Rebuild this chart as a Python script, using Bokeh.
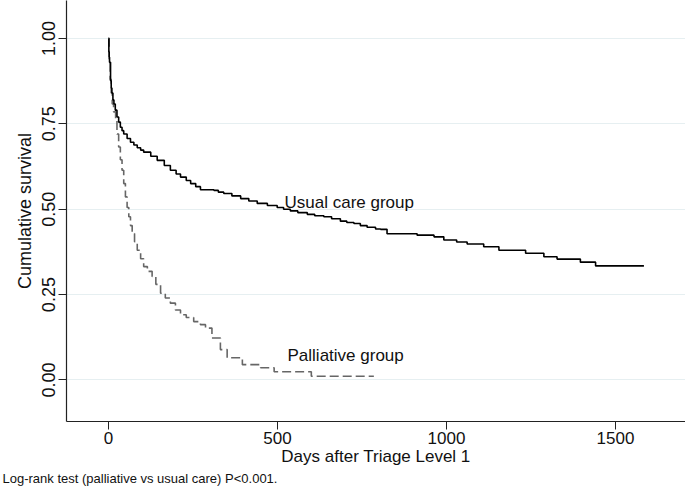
from bokeh.plotting import figure
from bokeh.models import Range1d, FixedTicker, NumeralTickFormatter, Label, Title
from bokeh.embed import file_html
from bokeh.resources import INLINE

# Usual care group (Kaplan-Meier steps)
usual_days = [0, 1, 2, 3, 6, 8, 10, 13, 16, 20, 25, 30, 35, 40, 45, 55, 65, 75, 85, 95, 104, 125,
              144, 165, 183, 200, 213, 230, 243, 258, 272, 312, 325, 341, 365, 391, 415, 440, 470,
              499, 518, 538, 560, 588, 610, 637, 660, 686, 705, 726, 745, 765, 790, 805, 824, 913,
              963, 992, 1030, 1061, 1110, 1155, 1234, 1288, 1327, 1396, 1441, 1584]
usual_surv = [1.0, 0.96, 0.945, 0.93, 0.876, 0.855, 0.84, 0.82, 0.808, 0.79, 0.77, 0.755, 0.74,
              0.73, 0.72, 0.707, 0.696, 0.688, 0.68, 0.673, 0.667, 0.655, 0.643, 0.628, 0.614,
              0.603, 0.594, 0.584, 0.575, 0.566, 0.557, 0.555, 0.55, 0.546, 0.539, 0.531, 0.524,
              0.517, 0.511, 0.505, 0.5, 0.495, 0.49, 0.485, 0.481, 0.478, 0.472, 0.465, 0.461,
              0.458, 0.452, 0.447, 0.442, 0.441, 0.428, 0.424, 0.419, 0.41, 0.404, 0.398, 0.39,
              0.38, 0.371, 0.361, 0.354, 0.345, 0.334, 0.334]

# Palliative group
pall_days = [0, 2, 5, 8, 11, 15, 21, 25, 30, 35, 40, 45, 50, 55, 60, 65, 70, 77, 85, 95, 104, 115,
             129, 140, 154, 168, 183, 198, 213, 230, 252, 272, 287, 306, 331, 351, 396, 450, 490,
             600, 785]
pall_surv = [1.0, 0.94, 0.88, 0.84, 0.808, 0.785, 0.759, 0.72, 0.682, 0.645, 0.614, 0.575, 0.536,
             0.505, 0.478, 0.452, 0.429, 0.405, 0.38, 0.355, 0.332, 0.318, 0.303, 0.28, 0.254,
             0.24, 0.225, 0.205, 0.191, 0.183, 0.171, 0.162, 0.152, 0.123, 0.089, 0.065, 0.045,
             0.036, 0.024, 0.011, 0.011]

y_ticks = [0, 0.25, 0.5, 0.75, 1.0]
x_ticks = [0, 500, 1000, 1500]

FONT = "Liberation Sans"

p = figure(width=685, height=490, output_backend="svg", toolbar_location=None,
           x_range=Range1d(-124.3, 1707), y_range=Range1d(-0.1215, 1.111),
           min_border_left=66, min_border_right=0, min_border_top=0, min_border_bottom=69)
p.outline_line_color = None
p.background_fill_color = "white"
p.border_fill_color = "white"

p.xgrid.visible = False
p.ygrid.grid_line_color = "#e6eff1"
p.ygrid.grid_line_width = 1.2
p.yaxis.ticker = FixedTicker(ticks=y_ticks)
p.xaxis.ticker = FixedTicker(ticks=x_ticks)
p.yaxis.formatter = NumeralTickFormatter(format="0.00")

for ax in (p.xaxis[0], p.yaxis[0]):
    ax.axis_line_color = "#222222"
    ax.axis_line_width = 1.2
    ax.major_tick_line_color = "#222222"
    ax.major_tick_in = 0
    ax.major_tick_out = 8
    ax.minor_tick_line_color = None
    ax.major_label_text_font = FONT
    ax.major_label_text_font_size = "17px"
    ax.major_label_text_color = "#111111"
    ax.axis_label_text_font = FONT
    ax.axis_label_text_font_size = "17px"
    ax.axis_label_text_font_style = "normal"
    ax.axis_label_text_color = "#111111"

p.yaxis.major_label_text_font_size = "18px"
p.yaxis.axis_label_text_font_size = "18px"

p.xaxis.axis_label = "Days after Triage Level 1"
p.yaxis.axis_label = "Cumulative survival"
p.yaxis.major_label_orientation = "vertical"
p.xaxis.major_label_standoff = 2
p.xaxis.axis_label_standoff = 0
p.yaxis.major_label_standoff = 3
p.yaxis.axis_label_standoff = 5

p.step(pall_days, pall_surv, mode="after", line_color="#666666", line_width=1.6,
       line_dash="9 4")
p.step(usual_days, usual_surv, mode="after", line_color="#000000", line_width=1.6)

p.add_layout(Label(x=520.7, y=0.5206, text="Usual care group", text_font=FONT,
                   text_font_size="17px", text_color="#111111", text_baseline="alphabetic"))
p.add_layout(Label(x=529.6, y=0.0717, text="Palliative group", text_font=FONT,
                   text_font_size="17px", text_color="#111111", text_baseline="alphabetic"))

note = Title(text="Log-rank test (palliative vs usual care) P<0.001.", align="left",
             text_font=FONT, text_font_size="13px", text_font_style="normal",
             text_color="#111111", offset=-64, standoff=0)
p.add_layout(note, "below")

open("out.html", "w").write(file_html(p, INLINE))
